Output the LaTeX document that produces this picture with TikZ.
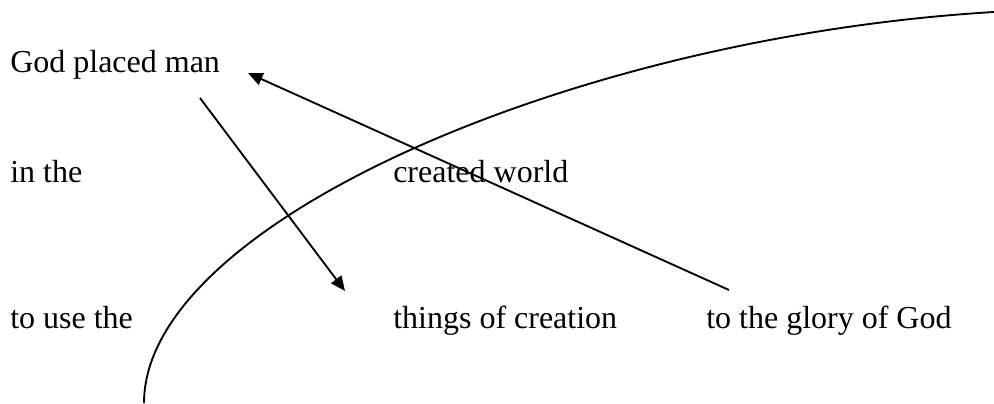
\documentclass[tikz,border=0pt]{standalone}
\usepackage{fontspec}
\setmainfont{Liberation Serif}
\usetikzlibrary{arrows.meta, positioning}

\tikzset{
    phrase/.style={anchor=base west, inner sep=0pt, font=\fontsize{24pt}{28pt}\selectfont},
    pointer/.style={line width=1.4pt, -{Triangle[length=11pt,width=9.5pt]}},
}

\begin{document}
\begin{tikzpicture}[x=0.75pt, y=-0.75pt]
    \useasboundingbox (0,0) rectangle (994,403);
    \node[phrase] (god) at (10,72) {God placed man};
    \node[phrase] (inthe) at (10,182) {in the};
    \node[phrase] (world) at (393,182) {created world};
    \node[phrase] (usethe) at (10,328) {to use the};
    \node[phrase] (things) at (393,328) {things of creation};
    \node[phrase] (glory) at (706,328) {to the glory of God};

    \coordinate (placefrom) at (200,98);
    \coordinate (placeto) at (345,291);
    \coordinate (gloryfrom) at (729,290);
    \coordinate (gloryto) at (248,73);
    \coordinate (arcbottom) at (144,403);
    \coordinate (arctop) at (994,12);

    \draw[pointer] (placefrom) -- (placeto);
    \draw[pointer] (gloryfrom) -- (gloryto);
    \draw[line width=1.4pt] (arcbottom) .. controls (144,223) and (574,37) .. (arctop);
\end{tikzpicture}
\end{document}
